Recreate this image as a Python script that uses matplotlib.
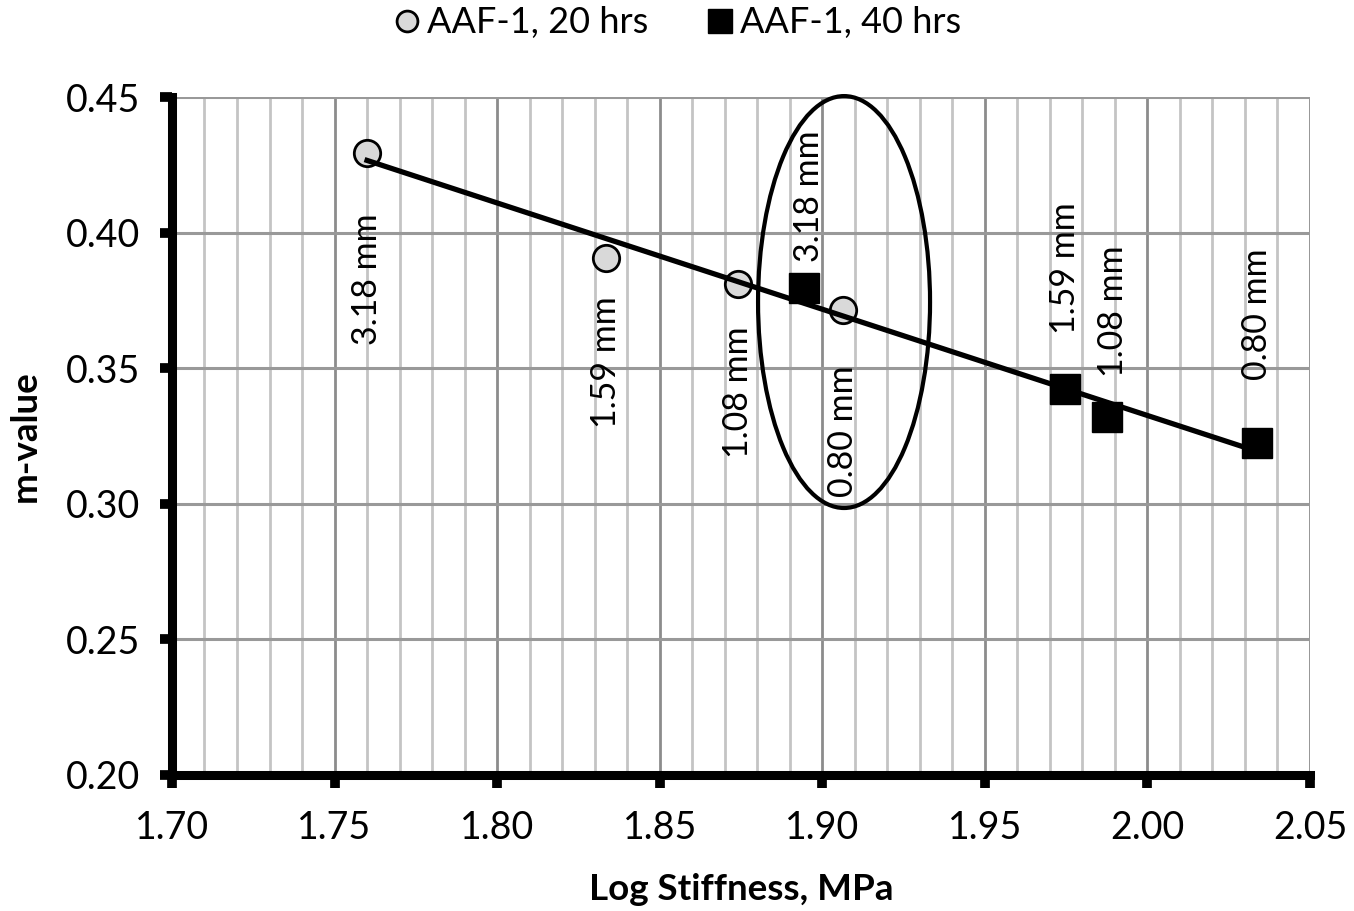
import numpy as np
import matplotlib
matplotlib.use("Agg")
import matplotlib.pyplot as plt
from matplotlib.patches import Ellipse
from matplotlib.lines import Line2D
from matplotlib.ticker import MultipleLocator

plt.rcParams['font.family'] = ['Lato', 'DejaVu Sans']

# data
x20 = [1.760, 1.8335, 1.874, 1.9065]
y20 = [0.4295, 0.3906, 0.3810, 0.3715]
lab20 = ['3.18 mm', '1.59 mm', '1.08 mm', '0.80 mm']

x40 = [1.8945, 1.9747, 1.9877, 2.0338]
y40 = [0.3795, 0.3422, 0.3321, 0.3223]
lab40 = ['3.18 mm', '1.59 mm', '1.08 mm', '0.80 mm']

# label offsets in points (dx, dy)
off20 = [(0, -91), (0, -75), (0, -78), (0, -87)]
off40 = [(3, 66), (0, 87), (4, 76), (0, 93)]

fig = plt.figure(figsize=(13.54, 9.11), dpi=100)
ax = fig.add_axes([0.127, 0.1493, 0.9675 - 0.127, 0.8935 - 0.1493])

ax.set_xlim(1.70, 2.05)
ax.set_ylim(0.20, 0.45)
ax.xaxis.set_major_locator(MultipleLocator(0.05))
ax.xaxis.set_minor_locator(MultipleLocator(0.01))
ax.yaxis.set_major_locator(MultipleLocator(0.05))
ax.xaxis.set_major_formatter(matplotlib.ticker.FormatStrFormatter('%.2f'))
ax.yaxis.set_major_formatter(matplotlib.ticker.FormatStrFormatter('%.2f'))

ax.grid(which='minor', axis='x', color='#c4c4c4', lw=2.0)
ax.grid(which='major', axis='x', color='#8c8c8c', lw=2.0)
ax.grid(which='major', axis='y', color='#999999', lw=2.2)
ax.set_axisbelow(True)

for s in ['top', 'right']:
    ax.spines[s].set_visible(False)
for s in ['left', 'bottom']:
    ax.spines[s].set_linewidth(6.5)
    ax.spines[s].set_capstyle('projecting')

ax.tick_params(which='major', direction='out', length=9, width=7, labelsize=27, pad=16)
ax.tick_params(axis='y', pad=14)
ax.tick_params(which='minor', length=0)

ax.plot(x20, y20, 'o', ms=19, mfc='#d9d9d9', mec='black', mew=2, zorder=3, clip_on=False)
ax.plot(x40, y40, 's', ms=21, mfc='black', mec='black', mew=1, zorder=3, clip_on=False)

# linear trend through all points
xa = np.array(x20 + x40)
ya = np.array(y20 + y40)
k, b = np.polyfit(xa, ya, 1)
xl = np.array([xa.min(), xa.max()])
ax.plot(xl, k * xl + b, color='black', lw=3.8, zorder=4)

for xs, ys, labs, offs in [(x20, y20, lab20, off20), (x40, y40, lab40, off40)]:
    for xi, yi, t, o in zip(xs, ys, labs, offs):
        ax.annotate(t, (xi, yi), xytext=o, textcoords='offset points',
                    rotation=90, ha='center', va='center', fontsize=24.5, zorder=5)

ax.add_patch(Ellipse((1.9067, 0.3744), 0.0529, 0.1519, fill=False,
                     ec='black', lw=3, zorder=5, clip_on=False))

ax.set_xlabel('Log Stiffness, MPa', fontsize=26.5, fontweight='bold')
ax.set_ylabel('m-value', fontsize=26.5, fontweight='bold')
ax.xaxis.set_label_coords(0.5, -0.145)
ax.yaxis.set_label_coords(-0.114, 0.5)

handles = [
    Line2D([], [], ls='none', marker='o', ms=15, mfc='#d9d9d9', mec='black', mew=2),
    Line2D([], [], ls='none', marker='s', ms=17, mfc='black', mec='black'),
]
fig.legend(handles, ['AAF-1, 20 hrs', 'AAF-1, 40 hrs'], loc='center',
           bbox_to_anchor=(0.4985, 0.975), ncol=2, frameon=False, fontsize=26,
           handletextpad=0.05, columnspacing=1.5, handlelength=1.0)

fig.savefig('out.png', dpi=100)
